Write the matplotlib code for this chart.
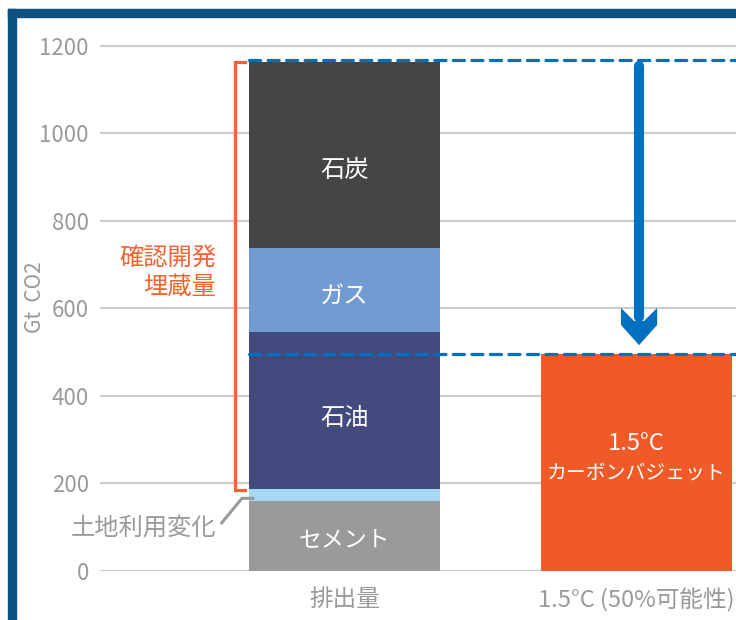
import matplotlib

matplotlib.use("Agg")
import matplotlib.pyplot as plt
import numpy as np
from matplotlib.patches import Polygon, Rectangle

plt.rcParams["font.family"] = ["Noto Sans CJK JP", "DejaVu Sans"]

# data (Gt CO2)
categories = ["排出量", "1.5°C (50%可能性)"]
segment_labels = ["セメント", "土地利用変化", "石油", "ガス", "石炭"]
segment_values = [160, 27, 358, 192, 426]
budget_label = "1.5°C\nカーボンバジェット"
budget_value = 495
yticks = [0, 200, 400, 600, 800, 1000, 1200]

SEGMENT_COLORS = ["#9a9a9a", "#a6d9f4", "#424a7e", "#719bd1", "#454545"]
LABEL_SHIFT = [-9, 0, -16, -13, -34]  # nudge labels down inside their segment
BUDGET_COLOR = "#f05a28"
BLUE = "#0070c0"
ORANGE = "#f26430"
GRAY_TEXT = "#9a9a9a"
FRAME = "#0b5282"
BAR_W = 0.654

fig = plt.figure(figsize=(7.36, 6.2), dpi=100)
ax = fig.add_axes([100 / 736, 1 - 571 / 620, 1 - 100 / 736, (571 - 41.3) / 620])
ax.set_xlim(-0.837, 1.341)
ax.set_ylim(0, 1210)

# stacked emissions bar
x = np.arange(len(categories))
bottoms = np.concatenate([[0], np.cumsum(segment_values)[:-1]])
for label, val, bot, color, shift in zip(segment_labels, segment_values, bottoms,
                                         SEGMENT_COLORS, LABEL_SHIFT):
    ax.bar(x[0], val, bottom=bot, width=BAR_W, color=color, zorder=2)
    if label != "土地利用変化":
        size = 16.5 if label == "セメント" else 17.5
        ax.text(x[0], bot + val / 2 + shift, label, ha="center", va="center",
                color="white", fontsize=size, zorder=3)

# budget bar, two-line label with a bigger first line
ax.bar(x[1], budget_value, width=BAR_W, color=BUDGET_COLOR, zorder=2)
line1, line2 = budget_label.split("\n")
ax.text(x[1], budget_value * 0.59, line1, ha="center", va="center",
        color="white", fontsize=17, zorder=3)
ax.text(x[1], budget_value * 0.452, line2, ha="center", va="center",
        color="white", fontsize=14.3, zorder=3)

total = sum(segment_values)
left_edge = x[0] - BAR_W / 2

# dashed reference lines
dash_kw = dict(color=BLUE, lw=2.3, linestyle=(0, (3.5, 2.3)),
               dash_capstyle="round", zorder=4, clip_on=False)
ax.plot([left_edge, 1.341], [total + 5, total + 5], **dash_kw)
ax.plot([left_edge, 1.341], [budget_value, budget_value], **dash_kw)

# downward arrow from reserves to budget
ax_c = 1.009
ax.plot([ax_c, ax_c], [total - 10, 580], color=BLUE, lw=7.3,
        solid_capstyle="round", zorder=5)
head = [(ax_c - 0.062, 601), (ax_c - 0.062, 562), (ax_c, 516),
        (ax_c + 0.062, 562), (ax_c + 0.062, 601), (ax_c + 0.017, 571),
        (ax_c - 0.017, 571)]
ax.add_patch(Polygon(head, closed=True, color=BLUE, zorder=5, lw=0))

# reserves bracket
br_x = -0.376
ax.plot([-0.341, br_x, br_x, -0.341], [total, total, 185, 185],
        color=ORANGE, lw=2.3, solid_joinstyle="miter", zorder=4)
ax.text(-0.44, 683, "確認開発\n埋蔵量", ha="right", va="center",
        color=ORANGE, fontsize=17.5, linespacing=1.15)

# land-use leader
ax.plot([-0.42, -0.351, -0.313], [110, 166, 166], color="#999999", lw=2.2, zorder=4)
ax.text(-0.44, 98, "土地利用変化", ha="right", va="center",
        color=GRAY_TEXT, fontsize=17.5)

# axes styling
ax.set_yticks(yticks)
ax.set_yticklabels([str(t) for t in yticks], fontsize=16, color=GRAY_TEXT)
ax.set_xticks(x)
ax.set_xticklabels(categories, fontsize=17, color=GRAY_TEXT)
ax.tick_params(axis="y", length=0, pad=8)
ax.tick_params(axis="x", length=0, pad=12)
ax.yaxis.grid(True, color="#cccccc", lw=1.6, zorder=0)
ax.set_axisbelow(True)
for s in ax.spines.values():
    s.set_visible(False)

fig.text(35 / 736, 1 - 297 / 620, "Gt  CO2", rotation=90, ha="center", va="center",
         color=GRAY_TEXT, fontsize=15)

# outer frame (top and left edges)
fig.patches.append(Rectangle((8 / 736, 1 - 17 / 620), 1, 8 / 620,
                             transform=fig.transFigure, color=FRAME, zorder=10))
fig.patches.append(Rectangle((8 / 736, 0), 8 / 736, 1 - 9 / 620,
                             transform=fig.transFigure, color=FRAME, zorder=10))

fig.savefig("out.png", dpi=100)
plt.close(fig)
